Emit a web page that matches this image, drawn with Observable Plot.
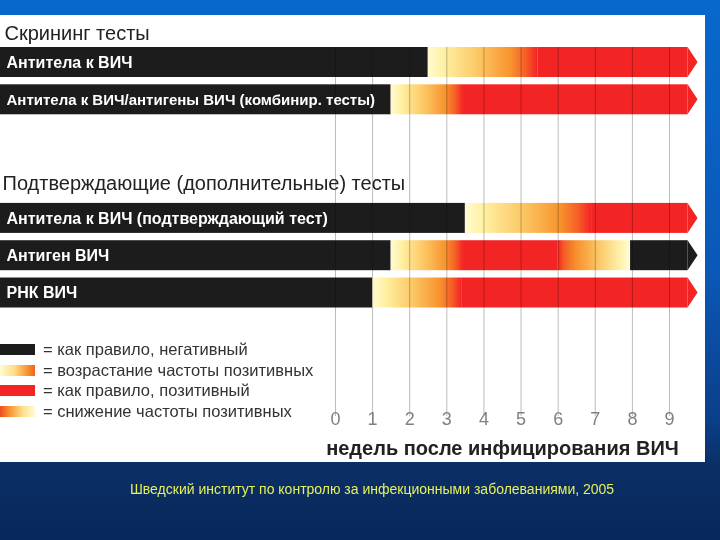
<!DOCTYPE html>
<html>
<head>
<meta charset="utf-8">
<script src="https://cdn.jsdelivr.net/npm/d3@7"></script>
<script src="https://cdn.jsdelivr.net/npm/@observablehq/plot@0.6"></script>
<style>
  body { margin: 0; }
  #page { position: relative; width: 720px; height: 540px; overflow: hidden;
    background: linear-gradient(to bottom, #0868cc 0%, #0a58b8 50%, #0a3f88 78%, #0b2f66 86%, #07275a 100%);
    font-family: "Liberation Sans", Arial, sans-serif; }
  #panel { position: absolute; left: 0; top: 15px; width: 705px; height: 447px; background: #fff; overflow: hidden; }
  #panel svg { position: absolute; left: 0; top: 0; }
  #legend { position: absolute; left: 0; top: 324px; font-size: 16.5px; color: #333; }
  #legend .row { display: flex; align-items: center; height: 20.7px; }
  #legend .sw { width: 35px; height: 11px; margin-right: 8px; }
  #caption { position: absolute; left: 130px; top: 481px; font-size: 14px; color: #e6f05a; white-space: nowrap; }
</style>
</head>
<body>
<div id="page">
  <div id="panel"></div>
  <div id="caption"></div>
</div>
<script>
// ---- data ----
const weekTicks = [0, 1, 2, 3, 4, 5, 6, 7, 8, 9];
const sections = ["Скрининг тесты", "Подтверждающие (дополнительные) тесты"];
const tests = [
  "Антитела к ВИЧ",
  "Антитела к ВИЧ/антигены ВИЧ (комбинир. тесты)",
  "Антитела к ВИЧ (подтверждающий тест)",
  "Антиген ВИЧ",
  "РНК ВИЧ"
];
const testSection = [0, 0, 1, 1, 1];
// week boundaries of the phases of each test
const boundaries = [
  [-10, 2.5, 5.45, 9.5],
  [-10, 1.5, 3.45, 9.5],
  [-10, 3.5, 6.9, 9.5],
  [-10, 1.5, 3.45, 6.0, 7.95, 9.5],
  [-10, 1.0, 3.4, 9.5]
];
const phases = [
  ["neg", "rise", "pos"],
  ["neg", "rise", "pos"],
  ["neg", "rise", "pos"],
  ["neg", "rise", "pos", "fall", "neg"],
  ["neg", "rise", "pos"]
];
const arrowTip = 9.77;
const legendKinds = ["neg", "rise", "pos", "fall"];
const legendLabels = [
  "= как правило, негативный",
  "= возрастание частоты позитивных",
  "= как правило, позитивный",
  "= снижение частоты позитивных"
];
const axisTitle = "недель после инфицирования ВИЧ";
const captionText = "Шведский институт по контролю за инфекционными заболеваниями, 2005";

// ---- styles ----
const FONT = "'Liberation Sans', Arial, sans-serif";
const solid = { neg: "#1c1c1c", pos: "#f32424" };
const sectionGap = 2.18;
const half = 0.402;

const slot = i => i + testSection[i] * sectionGap;

const segments = [];
phases.forEach((ks, i) => ks.forEach((k, j) => segments.push({
  test: tests[i], kind: k, s: slot(i), x1: boundaries[i][j], x2: boundaries[i][j + 1]
})));
const arrows = [];
tests.forEach((t, i) => {
  const b = boundaries[i], last = phases[i][phases[i].length - 1], s = slot(i);
  arrows.push({ test: t, kind: last, base: b[b.length - 1], x: b[b.length - 1], y: s - half });
  arrows.push({ test: t, kind: last, base: b[b.length - 1], x: arrowTip, y: s });
  arrows.push({ test: t, kind: last, base: b[b.length - 1], x: b[b.length - 1], y: s + half });
});
const labelRows = tests.map((t, i) => ({ t, s: slot(i) }));
const firstSlot = sections.map((_, k) => slot(testSection.indexOf(k)));

function defs() {
  const d = d3.create("svg:defs");
  const mk = (id, stops) => {
    const g = d.append("linearGradient").attr("id", id).attr("x1", 0).attr("x2", 1).attr("y1", 0).attr("y2", 0);
    stops.forEach(([o, c]) => g.append("stop").attr("offset", o).attr("stop-color", c));
  };
  mk("g-rise", [[0, "#fffbd2"], [0.15, "#fff0a2"], [0.45, "#fcc866"], [0.75, "#f8952e"], [0.9, "#f65c26"], [1, "#f32424"]]);
  mk("g-fall", [[0, "#f32424"], [0.08, "#f55a25"], [0.25, "#f7902c"], [0.55, "#fbc462"], [0.85, "#fff0a8"], [1, "#fffcd8"]]);
  return d.node();
}
const fillOf = { neg: solid.neg, pos: solid.pos, rise: "url(#g-rise)", fall: "url(#g-fall)" };

const chart = Plot.plot({
  width: 705,
  height: 447,
  marginLeft: 0,
  marginRight: 0,
  marginTop: 32,
  marginBottom: 46,
  style: { fontFamily: FONT, background: "white" },
  x: { domain: [-9.027, 9.97], axis: null },
  y: { domain: [-1.26, 10.724], range: [0, 447], axis: null },
  marks: [
    defs,
    ...["neg", "pos", "rise", "fall"].map(k => Plot.rect(segments.filter(d => d.kind === k), {
      x1: "x1", x2: "x2", y1: d => d.s - half, y2: d => d.s + half, fill: fillOf[k]
    })),
    ...["neg", "pos"].map(k => Plot.areaX(arrows.filter(d => d.kind === k), {
      y: "y", x1: "base", x2: "x", z: "test", fill: solid[k], curve: "linear"
    })),
    Plot.ruleX(weekTicks, { x: d => d, stroke: "#bcbcbc", strokeWidth: 1, mixBlendMode: "multiply" }),
    Plot.text(labelRows, { y: "s", text: "t", frameAnchor: "left", dx: 6, textAnchor: "start",
      fill: "white", fontWeight: "bold", fontSize: d => d.t.length > 40 ? 15 : 16 }),
    Plot.text([sections[0]], { y: () => firstSlot[0], text: d => d, frameAnchor: "left", dx: 4, dy: -29,
      textAnchor: "start", fill: "#222", fontSize: 20 }),
    Plot.text([sections[1]], { y: () => firstSlot[1], text: d => d, frameAnchor: "left", dx: 2, dy: -35,
      textAnchor: "start", fill: "#222", fontSize: 20 }),
    Plot.text(weekTicks, { x: d => d, text: d => String(d), frameAnchor: "bottom", dy: 8,
      fill: "#808080", fontSize: 18 }),
    Plot.text([axisTitle], { x: () => d3.mean(weekTicks), text: d => d, frameAnchor: "bottom", dy: 38,
      fill: "#222", fontSize: 20, fontWeight: "bold" })
  ]
});
const panel = document.getElementById("panel");
panel.appendChild(chart);

// legend
const legendCss = {
  neg: solid.neg,
  rise: "linear-gradient(to right, #fffbd2, #fde08a 40%, #f7902c 80%, #f06020)",
  pos: solid.pos,
  fall: "linear-gradient(to right, #f04a20, #f7902c 25%, #fde08a 65%, #fffbd8)"
};
const legend = d3.select(panel).append("div").attr("id", "legend");
legendKinds.forEach((k, i) => {
  const r = legend.append("div").attr("class", "row");
  r.append("div").attr("class", "sw").style("background", legendCss[k]);
  r.append("span").text(legendLabels[i]);
});
document.getElementById("caption").textContent = captionText;
</script>
</body>
</html>
